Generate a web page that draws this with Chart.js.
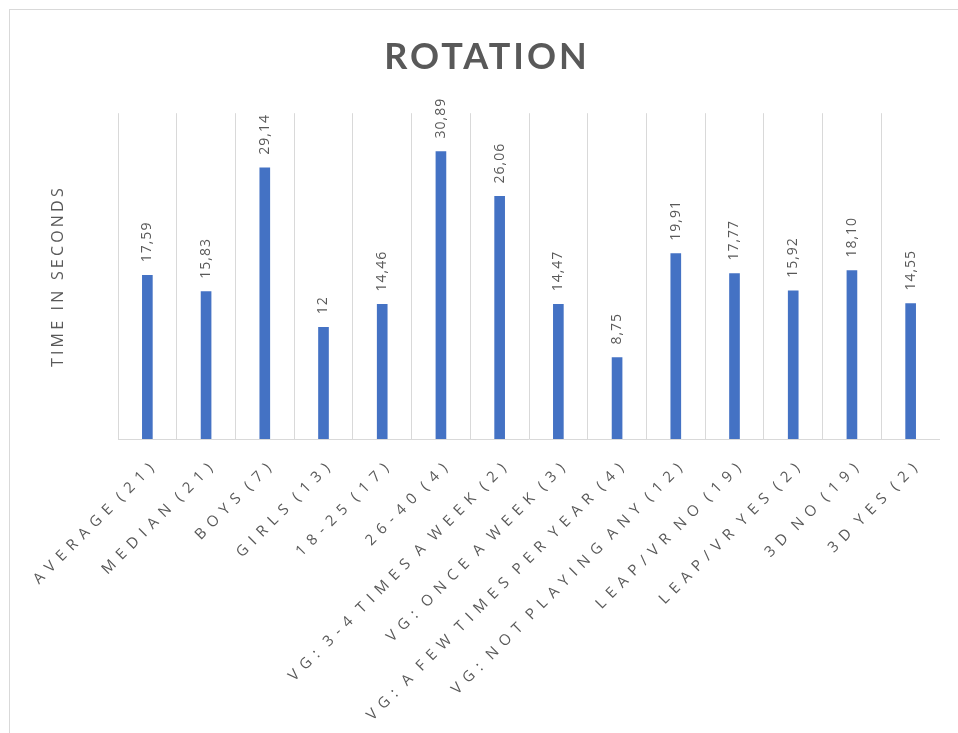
<!DOCTYPE html>
<html>
<head>
    <title>Rotation</title>
    <script src="https://cdn.jsdelivr.net/npm/chart.js"></script>
    <style>
        body {
            margin: 0;
            background-color: #ffffff;
        }
        #frame {
            position: absolute;
            left: 9px;
            top: 9px;
            width: 949px;
            height: 724px;
            border-top: 1px solid #d9d9d9;
            border-left: 1px solid #d9d9d9;
        }
    </style>
</head>
<body>

    <div id="frame">
        <canvas id="rotationChart" width="930" height="723"></canvas>
    </div>

    <script>
        const categories = [
            'AVERAGE (21)', 'MEDIAN (21)', 'BOYS (7)', 'GIRLS (13)', '18-25 (17)', '26-40 (4)',
            'VG: 3-4 TIMES A WEEK (2)', 'VG: ONCE A WEEK (3)', 'VG: A FEW TIMES PER YEAR (4)',
            'VG: NOT PLAYING ANY (12)', 'LEAP/VR NO (19)', 'LEAP/VR YES (2)', '3D NO (19)', '3D YES (2)'
        ];
        const times = [17.59, 15.83, 29.14, 12, 14.46, 30.89, 26.06, 14.47, 8.75, 19.91, 17.77, 15.92, 18.10, 14.55];
        const timeLabels = ['17,59', '15,83', '29,14', '12', '14,46', '30,89', '26,06', '14,47', '8,75', '19,91', '17,77', '15,92', '18,10', '14,55'];

        const textColor = '#595959';
        const gridColor = '#d9d9d9';

        // wraps a draw function so its text gets letter (and word) spacing
        function spaced(obj, fn, spacing, wordSpacing) {
            if (!obj || obj['_sp_' + fn]) return;
            const orig = obj[fn];
            obj[fn] = function () {
                const ctx = this.ctx;
                ctx.save();
                ctx.letterSpacing = spacing;
                if (wordSpacing) ctx.wordSpacing = wordSpacing;
                orig.apply(this, arguments);
                ctx.restore();
            };
            obj['_sp_' + fn] = true;
        }

        const spacingPlugin = {
            id: 'spacing',
            beforeDraw(chart) {
                spaced(chart.titleBlock, 'draw', '3px');
                spaced(chart.scales.x, 'drawLabels', '6.8px', '-6px');
                spaced(chart.scales.y, 'drawTitle', '3.2px');
            }
        };

        const valueLabels = {
            id: 'valueLabels',
            afterDatasetsDraw(chart) {
                const ctx = chart.ctx;
                const meta = chart.getDatasetMeta(0);
                ctx.save();
                ctx.font = '14px "Open Sans"';
                ctx.fillStyle = textColor;
                ctx.letterSpacing = '1px';
                ctx.textAlign = 'left';
                ctx.textBaseline = 'middle';
                meta.data.forEach((bar, i) => {
                    ctx.save();
                    ctx.translate(bar.x, bar.y - 13);
                    ctx.rotate(-Math.PI / 2);
                    ctx.fillText(timeLabels[i], 0, 0);
                    ctx.restore();
                });
                ctx.restore();
            }
        };

        function drawChart() {
            const ctx = document.getElementById('rotationChart').getContext('2d');
            new Chart(ctx, {
                type: 'bar',
                data: {
                    labels: categories,
                    datasets: [{
                        label: 'Time in seconds',
                        data: times,
                        backgroundColor: '#4472c4',
                        barThickness: 10
                    }]
                },
                options: {
                    responsive: false,
                    animation: false,
                    layout: { padding: { left: 24, right: 0 } },
                    plugins: {
                        legend: { display: false },
                        tooltip: { enabled: false },
                        title: {
                            display: true,
                            text: 'ROTATION',
                            color: textColor,
                            font: { family: 'Lato', size: 36, weight: 'bold' },
                            padding: { top: 26, bottom: 34 }
                        }
                    },
                    scales: {
                        x: {
                            grid: { color: gridColor, drawTicks: false, offset: true },
                            border: { color: gridColor },
                            ticks: {
                                color: textColor,
                                font: { family: 'Open Sans', size: 15 },
                                minRotation: 45,
                                maxRotation: 45,
                                autoSkip: false,
                                padding: 16,
                                labelOffset: 9
                            },
                            afterFit: s => { s.height = 294; }
                        },
                        y: {
                            min: 0,
                            max: 35,
                            grid: { display: false },
                            border: { display: false },
                            ticks: { display: false },
                            title: {
                                display: true,
                                text: 'TIME IN SECONDS',
                                color: textColor,
                                font: { family: 'Open Sans', size: 16 },
                                padding: { top: 15, bottom: 0 }
                            },
                            afterFit: s => { s.width = 84; }
                        }
                    }
                },
                plugins: [spacingPlugin, valueLabels]
            });
        }

        Promise.all([
            document.fonts.load('14px "Open Sans"'),
            document.fonts.load('bold 36px Lato')
        ]).then(drawChart, drawChart);
    </script>
</body>
</html>
